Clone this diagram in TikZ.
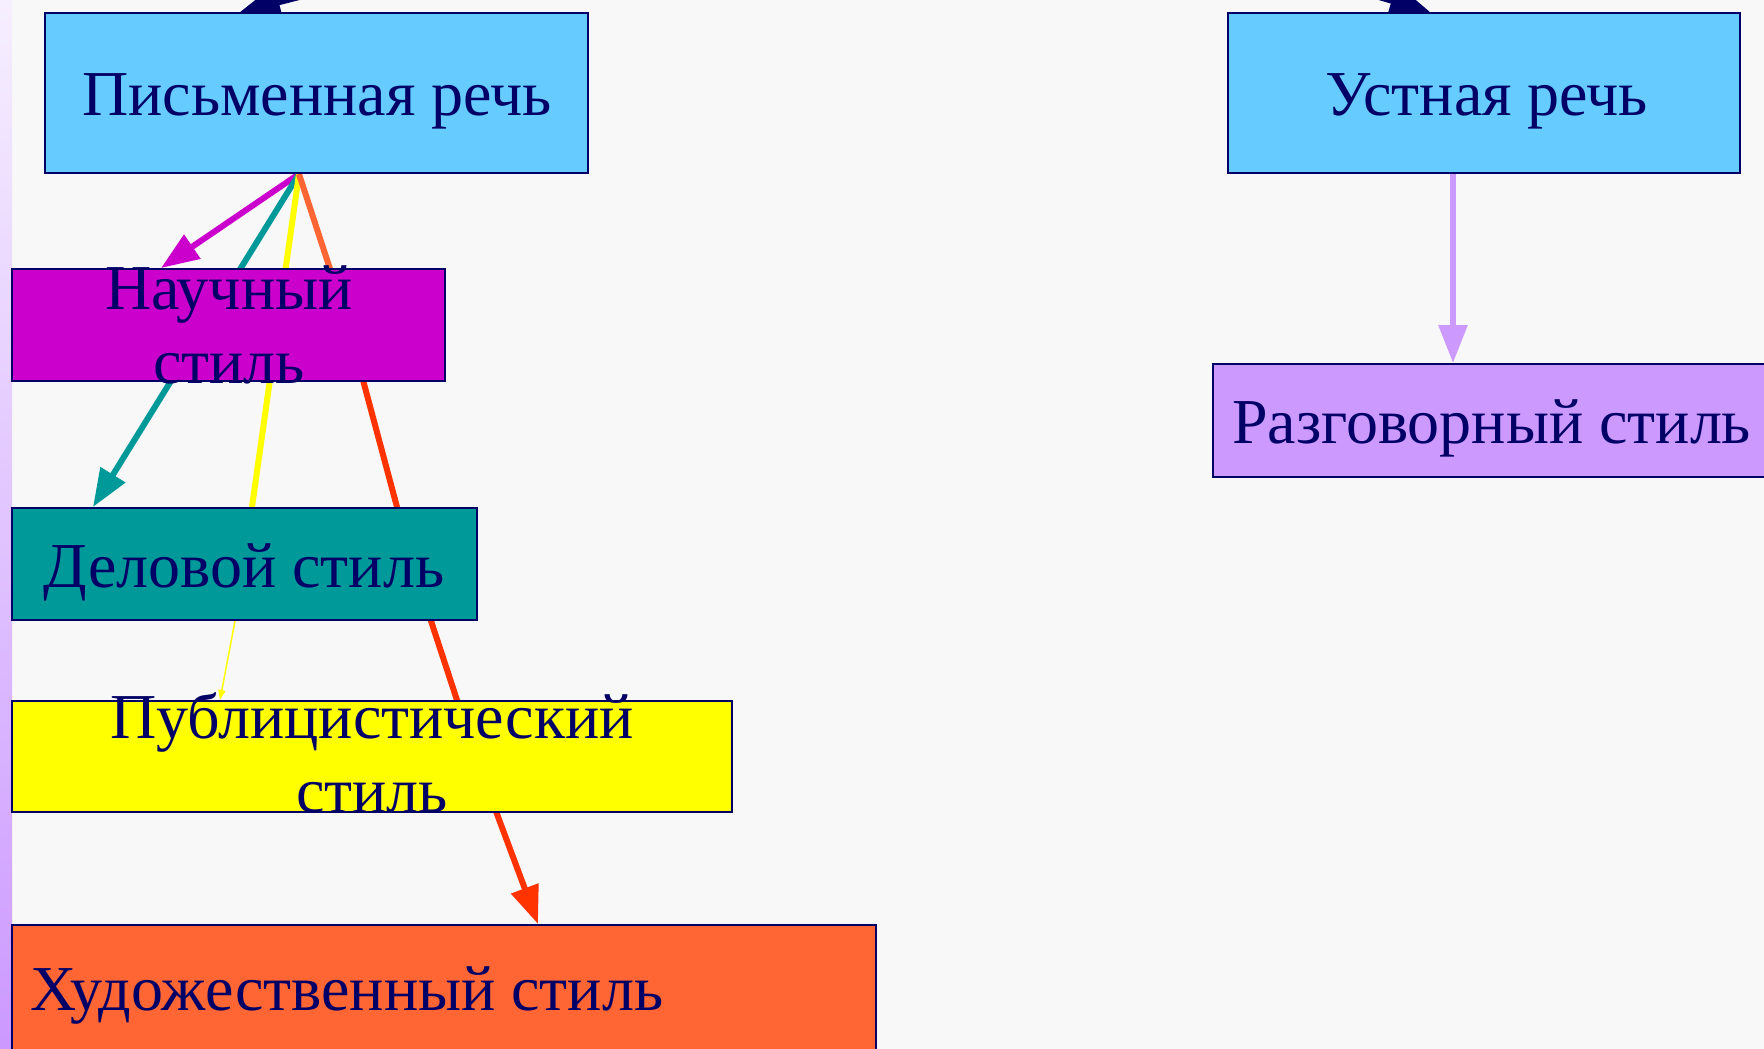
\documentclass[tikz,border=0pt]{standalone}
\usepackage{fontspec}
\setmainfont{Liberation Serif}
\usetikzlibrary{calc,arrows.meta}
\definecolor{navy}{HTML}{000066}
\definecolor{skyfill}{HTML}{66CCFF}
\definecolor{sciencefill}{HTML}{CC00CC}
\definecolor{businessfill}{HTML}{009999}
\definecolor{pressfill}{HTML}{FFFF00}
\definecolor{artfill}{HTML}{FF6633}
\definecolor{artline}{HTML}{FF3300}
\definecolor{talkfill}{HTML}{CC99FF}
\definecolor{backfill}{HTML}{F8F8F8}
\definecolor{stripfill}{HTML}{F6EFFF}
\pgfdeclarelayer{bg}
\pgfdeclarelayer{links}
\pgfsetlayers{bg,links,main}
\newcommand{\figunit}{1pt}
\newcommand{\stylebox}[6]{
	\node[box, fill=#2, minimum width=#5pt, minimum height=#6pt] (#1) at (#3,#4) {};
}

\begin{document}
\begin{tikzpicture}[x=\figunit,y=-\figunit,
	box/.style={draw=navy, line width=2pt, inner sep=0pt, anchor=north west},
	word/.style={text=navy, font=\fontsize{64}{74}\selectfont, inner sep=0pt, align=center},
	link/.style={line width=6pt, -{Triangle[length=38pt,width=28pt]}},
	thinlink/.style={line width=1.5pt, -{Triangle[length=10pt,width=7pt]}}]
	\useasboundingbox (0,0) rectangle (1764,1049);
	\begin{pgfonlayer}{bg}
	\fill[backfill] (0,0) rectangle (1764,1049);
	\shade[top color=stripfill, bottom color=talkfill] (0,0) rectangle (12,1049);
	\end{pgfonlayer}

	\stylebox{pis}{skyfill}{44}{12}{543}{160}
	\stylebox{ust}{skyfill}{1227}{12}{512}{160}
	\stylebox{nauch}{sciencefill}{11}{268}{433}{112}
	\stylebox{del}{businessfill}{11}{507}{465}{112}
	\stylebox{pub}{pressfill}{11}{700}{720}{111}
	\stylebox{hud}{artfill}{11}{924}{864}{160}
	\stylebox{razg}{talkfill}{1212}{363}{600}{113}

	\node[word, anchor=base] (pisT) at ($(pis.north)+(0.5,103)$) {Письменная речь};
	\node[word, anchor=base] (ustT) at ($(ust.north)+(3,103)$) {Устная речь};
	\node[word, anchor=base] (nauchT) at ($(nauch.north)+(0.5,115)$) {Научный\\стиль};
	\node[word, anchor=base] (delT) at ($(del.north)+(-0.5,80)$) {Деловой стиль};
	\node[word, anchor=base] (pubT) at ($(pub.north)+(0,112)$) {Публицистический\\стиль};
	\node[word, anchor=base west] (hudT) at ($(hud.north west)+(19,86)$) {Художественный стиль};
	\node[word, anchor=base west] (razgT) at ($(razg.north west)+(20,80)$) {Разговорный стиль};

	\coordinate (R) at (880,-150);
	\coordinate (F) at ($(pis.south)+(-17.5,0)$);
	\coordinate (U) at ($(ust.south)+(-31,0)$);
	\coordinate (A1) at ($(nauch.north west)+(337,56)$);
	\coordinate (A2) at ($(del.north west)+(401,56)$);
	\coordinate (A3) at ($(pub.north west)+(464,55)$);

	\begin{pgfonlayer}{links}
	\draw[link, navy, -{Triangle[length=40pt,width=34pt]}] (R) -- ($(pis.north west)+(196,0)$);
	\draw[link, navy, -{Triangle[length=40pt,width=34pt]}] (R) -- ($(ust.north west)+(203,0)$);
	\draw[link, sciencefill] (F) -- ($(nauch.north west)+(150,0)$);
	\draw[link, businessfill] (F) -- ($(del.north west)+(82,0)$);
	\draw[line width=6pt, pressfill] (F) -- ($(del.north west)+(241,0)$);
	\draw[thinlink, pressfill] ($(del.south west)+(224,0)$) -- ($(pub.north west)+(209,0)$);
	\draw[line width=6pt, artfill] (F) -- (A1);
	\draw[link, artline] (A1) -- (A2) -- (A3) -- ($(hud.north west)+(527,0)$);
	\draw[link, talkfill] (U) -- (U |- razg.north);
	\end{pgfonlayer}
	\end{tikzpicture}
\end{document}
